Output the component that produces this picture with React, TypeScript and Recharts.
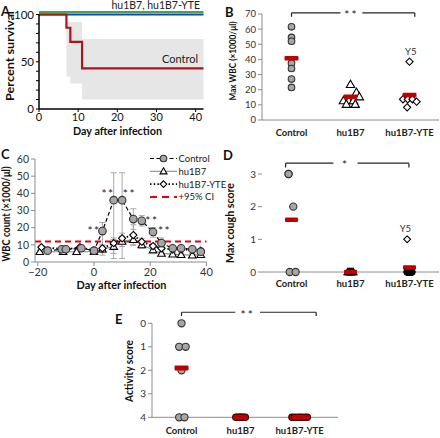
import React from 'react';
import {
  ComposedChart, ScatterChart, Line, Area, Scatter, XAxis, YAxis,
  ReferenceLine, ReferenceDot, ErrorBar,
} from 'recharts';

const FONT = 'Lato, "Liberation Sans", Arial, sans-serif';
const RED = '#c00000';
const AXIS_GRAY = '#8c8c8c';
const TICK = '#333';

// ================= Panel A: survival =================
const survDaysControl = [0, 7, 8, 11, 42];
const survControl = [100, 86, 71, 43, 43];
const survDaysTreated = [0, 42];
const survHu1B7 = [100, 100];
const survHu1B7Yte = [100, 100];
const ciDays = [7, 8, 11, 42];
const ciLow = [34, 27, 10, 10];
const ciHigh = [92, 92, 74, 74];
const dayTicksA = [0, 10, 20, 30, 40];
const survTicks = [0, 10, 20, 30, 40, 50, 60, 70, 80, 90, 100];

// ================= Panel B: max WBC =================
const groups = ['Control', 'hu1B7', 'hu1B7-YTE'];
const wbcControl = [61.5, 54.5, 52, 37.5, 34, 27, 21.5];
const wbcControlJitter = [0, 0, 0, 0, 0, 0, 0];
const wbcHu1B7 = [23.5, 18.3, 15.4, 12.8, 12.8, 12.8, 10.4, 10.4];
const wbcHu1B7Jitter = [0, 0.1, 0.15, -0.12, -0.03, 0.05, -0.07, 0.08];
const wbcYte = [38.5, 13.7, 13.7, 13.7, 12.1, 8.4];
const wbcYteJitter = [0, -0.11, -0.03, 0.05, 0.12, -0.04];
const wbcMeans = [40.7, 15.3, 16.5];
const wbcTicks = [0, 10, 20, 30, 40, 50, 60, 70];

// ================= Panel C: WBC time course =================
const wbcDaysControl = [-16.5, -11.5, -10, -4.5, 0, 3, 7, 10, 14, 17, 21, 24, 28, 31, 35, 38];
const wbcCtrlVals = [6.6, 7.4, 7.4, 8, 6.6, 18, 36, 36, 25, 24, 17.5, 11, 8, 8, 7.4, 6];
const wbcCtrlErr = [[1, 1], [1, 1], [1, 1], [1, 1], [1, 1], [14, 5], [34, 16], [34, 16], [6, 6], [3, 3], [3, 2.5], [3, 3], [1.5, 1.5], [1, 1], [1, 1], [1, 1]];
const wbcDaysHu1B7 = [-19.3, -11, -6.2, 0, 3, 7, 10, 14, 17, 21, 24, 28, 31, 35, 38];
const wbcHu1B7Vals = [6, 6, 6, 6, 7.5, 9, 12, 13, 10, 7, 5, 4.6, 4.3, 4, 4.3];
const wbcHu1B7Err = [[1, 1], [1, 1], [1, 1], [1, 1], [2, 2], [4, 4], [3, 3], [3, 3], [2, 2], [1.5, 1.5], [1, 1], [1, 1], [1, 1], [1, 1], [1, 1]];
const wbcDaysYte = [-18.7, -9.8, -5, 0, 3, 7, 10, 14, 17, 21, 24, 28, 31, 35, 38];
const wbcYteVals = [8.6, 7.4, 8.6, 6.6, 8, 11, 13.8, 15.7, 11.8, 9.3, 8, 7.4, 7.4, 7, 6.6];
const wbcYteErr = [[1, 1], [1, 1], [1, 1], [1, 1], [2, 2], [3, 3], [3, 3], [6, 6], [2, 2], [1.5, 1.5], [1, 1], [1, 1], [1, 1], [1, 1], [1, 1]];
const ci95 = 12;
const wbcDayTicks = [-20, 0, 20, 40];
const wbcCountTicks = [0, 10, 20, 30, 40, 50, 60];
const sigDays = [0, 5, 12.6, 20.6, 25.1];
const sigVals = [19.6, 41, 41, 25.4, 19.6];

// ================= Panel D: cough =================
const coughControl = [3, 3, 2, 0, 0];
const coughControlJitter = [-0.05, -0.05, 0.03, -0.03, 0.07];
const coughHu1B7 = [0, 0, 0, 0, 0, 0, 0];
const coughHu1B7Jitter = [-0.05, -0.03, -0.015, 0, 0.015, 0.03, 0.05];
const coughYte = [1, 0, 0, 0, 0, 0, 0];
const coughYteJitter = [-0.04, -0.04, -0.02, 0, 0.01, 0.02, 0.04];
const coughMeans = [1.6, 0, 0.14];
const coughTicks = [0, 1, 2, 3];

// ================= Panel E: activity =================
const actControl = [0, 1, 1, 2, 4, 4];
const actControlJitter = [0, -0.04, 0.07, 0, -0.04, 0.05];
const actHu1B7 = [4, 4, 4, 4, 4, 4, 4];
const actHu1B7Jitter = [-0.08, -0.05, -0.02, 0, 0.02, 0.05, 0.08];
const actYte = [4, 4, 4, 4, 4, 4, 4];
const actYteJitter = [-0.13, -0.09, -0.04, 0, 0.04, 0.09, 0.13];
const actMeans = [1.9, 4, 4];
const actTicks = [0, 1, 2, 3, 4];

// ================= helpers =================
const toPts = (vals: number[], jit: number[], cat: number) => vals.map((v, i) => ({ x: cat + jit[i], y: v }));
const meanPts = (m: number[]) => m.map((v, i) => ({ x: i + 1, y: v }));

const circleShape = (r: number, fill: string, stroke = '#333') => (p: any) =>
  p.cx == null ? <g /> : <circle cx={p.cx} cy={p.cy} r={r} fill={fill} stroke={stroke} strokeWidth={1.1} />;
const triShape = (s: number, fill: string) => (p: any) =>
  p.cx == null ? <g /> : (
    <path d={`M${p.cx},${p.cy - s} L${p.cx + s},${p.cy + s * 0.75} L${p.cx - s},${p.cy + s * 0.75} Z`}
      fill={fill} stroke="#000" strokeWidth={1.1} />
  );
const diaShape = (s: number, fill: string) => (p: any) =>
  p.cx == null ? <g /> : (
    <path d={`M${p.cx},${p.cy - s} L${p.cx + s},${p.cy} L${p.cx},${p.cy + s} L${p.cx - s},${p.cy} Z`}
      fill={fill} stroke="#000" strokeWidth={1.1} />
  );
// zero scores drawn as solid black blobs, non-zero as open diamonds
const coughYteShape = (p: any) =>
  p.cx == null ? <g /> : (p.payload && p.payload.y > 0)
    ? diaShape(3.4, '#fff')(p)
    : <circle cx={p.cx} cy={p.cy} r={3.4} fill="#000" stroke="#000" strokeWidth={1} />;
const meanShape = (w: number, h: number) => (p: any) =>
  p.cx == null ? <g /> : <rect x={p.cx - w / 2} y={p.cy - h / 2} width={w} height={h} rx={1} fill={RED} />;

function bracket(key: string, x1: number, x2: number, y: number, yEnd: number, g1: number, g2: number, text: string) {
  const st = { stroke: '#222', strokeWidth: 1.2 };
  return [
    <ReferenceLine key={key + 'a'} segment={[{ x: x1, y }, { x: g1, y }]} {...st} ifOverflow="visible" />,
    <ReferenceLine key={key + 'b'} segment={[{ x: g2, y }, { x: x2, y }]} {...st} ifOverflow="visible" />,
    <ReferenceLine key={key + 'c'} segment={[{ x: x1, y }, { x: x1, y: yEnd }]} {...st} ifOverflow="visible" />,
    <ReferenceLine key={key + 'd'} segment={[{ x: x2, y }, { x: x2, y: yEnd }]} {...st} ifOverflow="visible" />,
    <ReferenceDot key={key + 'e'} x={(g1 + g2) / 2} y={y} r={0} fill="none" stroke="none" ifOverflow="visible"
      label={{ value: text, position: 'center', fontSize: 12, fill: '#222', fontFamily: FONT, letterSpacing: 2, dy: 2 }} />,
  ];
}

const dotTick = { fontSize: 9.5, fill: TICK, fontFamily: FONT };
const catTick = { fontSize: 9.5, fill: '#222', fontFamily: FONT, fontWeight: 700 };

// ================= Panels =================
function PanelA() {
  const ctrl = survDaysControl.map((d, i) => ({ day: d, s: survControl[i] }));
  const hu = survDaysTreated.map((d, i) => ({ day: d, s: survHu1B7[i] }));
  const yte = survDaysTreated.map((d, i) => ({ day: d, s: survHu1B7Yte[i] }));
  const ci = ciDays.map((d, i) => ({ day: d, range: [ciLow[i], ciHigh[i]] }));
  const ax = { stroke: '#000', strokeWidth: 1.5 };
  return (
    <ComposedChart width={215} height={140} margin={{ top: 14.5, right: 11.5, bottom: 0, left: 0 }}>
      <XAxis type="number" dataKey="day" domain={[0, 42]} ticks={dayTicksA} interval={0} height={31}
        tickSize={3} tickMargin={1} axisLine={ax} tickLine={{ stroke: '#000' }}
        tick={{ fontSize: 11, fill: '#111', fontFamily: FONT }} allowDuplicatedCategory={false} />
      <YAxis type="number" domain={[0, 100]} ticks={survTicks} interval={0} width={39} tickSize={3}
        tickFormatter={(v: number) => (v % 50 === 0 ? String(v) : '')}
        axisLine={ax} tickLine={{ stroke: '#000' }} tick={{ fontSize: 11.5, fill: '#111', fontFamily: FONT }} />
      <Area data={ci} dataKey="range" type="stepAfter" fill="#e6e6e6" fillOpacity={1} stroke="none" isAnimationActive={false} />
      <Line data={hu} dataKey="s" type="stepAfter" stroke="#3daa47" strokeWidth={2.2} dot={false}
        isAnimationActive={false} style={{ transform: 'translateY(-2.5px)' }} />
      <Line data={yte} dataKey="s" type="stepAfter" stroke="#1a3fc4" strokeWidth={2.2} dot={false} isAnimationActive={false} />
      <Line data={ctrl} dataKey="s" type="stepAfter" stroke="#a8161c" strokeWidth={2.2} dot={false} isAnimationActive={false} />
      <ReferenceDot x={36} y={53} r={0} fill="none" stroke="none"
        label={{ value: 'Control', position: 'center', fontSize: 11, fill: '#222', fontFamily: FONT }} />
      <ReferenceDot x={29.8} y={109.4} r={0} fill="none" stroke="none" ifOverflow="visible"
        label={{ value: 'hu1B7, hu1B7-YTE', position: 'center', fontSize: 10.5, fill: '#222', fontFamily: FONT }} />
    </ComposedChart>
  );
}

function PanelB() {
  return (
    <ScatterChart width={220} height={140} margin={{ top: 14, right: 1, bottom: 0, left: 0 }}>
      <XAxis type="number" dataKey="x" domain={[0.5, 3.5]} ticks={[1, 2, 3]} interval={0} height={20}
        tickFormatter={(v: number) => groups[Math.round(v) - 1]} tickLine={false} tickSize={0} tickMargin={9}
        axisLine={{ stroke: AXIS_GRAY }} tick={catTick} />
      <YAxis type="number" dataKey="y" domain={[0, 70]} ticks={wbcTicks} interval={0} width={42} tickSize={4}
        axisLine={{ stroke: AXIS_GRAY }} tickLine={{ stroke: AXIS_GRAY }} tick={dotTick} />
      {bracket('b', 1.0, 3.09, 70.7, 68.2, 1.83, 2.2, '**')}
      <Scatter data={toPts(wbcControl, wbcControlJitter, 1)} shape={circleShape(3.3, '#a6a6a6')} isAnimationActive={false} />
      <Scatter data={toPts(wbcHu1B7, wbcHu1B7Jitter, 2)} shape={triShape(4.2, '#fff')} isAnimationActive={false} />
      <Scatter data={toPts(wbcYte, wbcYteJitter, 3)} shape={diaShape(3.6, '#fff')} isAnimationActive={false} />
      <Scatter data={meanPts(wbcMeans)} shape={meanShape(14, 4.5)} isAnimationActive={false} />
      <ReferenceDot x={3.02} y={44.9} r={0} fill="none" stroke="none"
        label={{ value: 'Y5', position: 'center', fontSize: 9.5, fill: '#333', fontFamily: FONT }} />
    </ScatterChart>
  );
}

function PanelC() {
  const ctrl = wbcDaysControl.map((d, i) => ({ day: d, v: wbcCtrlVals[i], e: wbcCtrlErr[i] }));
  const hu = wbcDaysHu1B7.map((d, i) => ({ day: d, v: wbcHu1B7Vals[i], e: wbcHu1B7Err[i] }));
  const yte = wbcDaysYte.map((d, i) => ({ day: d, v: wbcYteVals[i], e: wbcYteErr[i] }));
  const eb = { stroke: '#a8a8a8', strokeWidth: 1, width: 3 };
  return (
    <ComposedChart width={220} height={150} margin={{ top: 19, right: 13.6, bottom: 0, left: 0 }}>
      <XAxis type="number" dataKey="day" domain={[-21, 40]} ticks={wbcDayTicks} interval={0} height={28}
        tickSize={4} axisLine={{ stroke: AXIS_GRAY }} tickLine={{ stroke: AXIS_GRAY }}
        tickFormatter={(v: number) => (v < 0 ? '\u2212' + Math.abs(v) : String(v))}
        tick={{ fontSize: 11, fill: TICK, fontFamily: FONT }} allowDuplicatedCategory={false} />
      <YAxis type="number" domain={[0, 60]} ticks={wbcCountTicks} interval={0} width={35} tickSize={4}
        axisLine={{ stroke: AXIS_GRAY }} tickLine={{ stroke: AXIS_GRAY }}
        tick={{ fontSize: 10.5, fill: TICK, fontFamily: FONT }} />
      <ReferenceLine y={ci95} stroke="#e3000f" strokeWidth={2} strokeDasharray="6 4" />
      <Line data={hu} dataKey="v" name="hu1B7" stroke="#8a8a8a" strokeWidth={1.1}
        dot={triShape(3.8, '#fff')} isAnimationActive={false}>
        <ErrorBar dataKey="e" direction="y" {...eb} />
      </Line>
      <Line data={yte} dataKey="v" name="hu1B7-YTE" stroke="#000" strokeWidth={1.8} strokeDasharray="1.5 2.2"
        dot={diaShape(3.6, '#fff')} isAnimationActive={false}>
        <ErrorBar dataKey="e" direction="y" {...eb} />
      </Line>
      <Line data={ctrl} dataKey="v" name="Control" stroke="#000" strokeWidth={1.2} strokeDasharray="4 2.5"
        dot={circleShape(3.8, '#a6a6a6')} isAnimationActive={false}>
        <ErrorBar dataKey="e" direction="y" {...eb} />
      </Line>
      {sigDays.map((d, i) => (
        <ReferenceDot key={'s' + i} x={d} y={sigVals[i]} r={0} fill="none" stroke="none" ifOverflow="visible"
          label={{ value: '**', position: 'center', fontSize: 12, fill: '#222', fontFamily: FONT, letterSpacing: 1.5, dy: 2 }} />
      ))}
    </ComposedChart>
  );
}

function PanelD() {
  return (
    <ScatterChart width={220} height={150} margin={{ top: 34, right: 1, bottom: 0, left: 0 }}>
      <XAxis type="number" dataKey="x" domain={[0.5, 3.5]} ticks={[1, 2, 3]} interval={0} height={18}
        tickFormatter={(v: number) => groups[Math.round(v) - 1]} tickLine={false} tickSize={0} tickMargin={8}
        axisLine={{ stroke: AXIS_GRAY }} tick={catTick} />
      <YAxis type="number" dataKey="y" domain={[0, 3]} ticks={coughTicks} interval={0} width={42} tickSize={4}
        axisLine={false} tickLine={{ stroke: AXIS_GRAY }} tick={{ ...dotTick, fontSize: 10 }} />
      {bracket('d', 0.9, 2.99, 3.33, 3.2, 1.71, 2.12, '*')}
      <Scatter data={toPts(coughControl, coughControlJitter, 1)} shape={circleShape(3.6, '#a6a6a6')} isAnimationActive={false} />
      <Scatter data={toPts(coughHu1B7, coughHu1B7Jitter, 2)} shape={triShape(3.6, '#000')} isAnimationActive={false} />
      <Scatter data={toPts(coughYte, coughYteJitter, 3)} shape={coughYteShape} isAnimationActive={false} />
      <Scatter data={meanPts(coughMeans)} shape={meanShape(13, 4.5)} isAnimationActive={false} />
      <ReferenceDot x={2.93} y={1.32} r={0} fill="none" stroke="none"
        label={{ value: 'Y5', position: 'center', fontSize: 9.5, fill: '#333', fontFamily: FONT }} />
    </ScatterChart>
  );
}

function PanelE() {
  return (
    <ScatterChart width={240} height={158} margin={{ top: 43.3, right: 2, bottom: 0, left: 0 }}>
      <XAxis type="number" dataKey="x" domain={[0.5, 3.65]} ticks={[1, 2, 3]} interval={0} height={20.7}
        tickFormatter={(v: number) => groups[Math.round(v) - 1]} tickLine={false} tickSize={0} tickMargin={10}
        axisLine={{ stroke: AXIS_GRAY }} tick={catTick} />
      <YAxis type="number" dataKey="y" domain={[0, 4]} reversed ticks={actTicks} interval={0} width={52} tickSize={4}
        axisLine={{ stroke: AXIS_GRAY }} tickLine={{ stroke: AXIS_GRAY }} tick={{ ...dotTick, fontSize: 10 }} />
      {bracket('e', 1.0, 3.28, -0.47, -0.31, 1.91, 2.33, '**')}
      <Scatter data={toPts(actControl, actControlJitter, 1)} shape={circleShape(3.6, '#a6a6a6')} isAnimationActive={false} />
      <Scatter data={toPts(actHu1B7, actHu1B7Jitter, 2)} shape={circleShape(3.2, RED, '#3a0000')} isAnimationActive={false} />
      <Scatter data={toPts(actYte, actYteJitter, 3)} shape={circleShape(3.2, RED, '#3a0000')} isAnimationActive={false} />
      <Scatter data={meanPts(actMeans)} shape={meanShape(14, 5)} isAnimationActive={false} />
    </ScatterChart>
  );
}

const legendItems = [
  { name: 'Control', color: '#000', dash: '4 2.5', w: 1.2, marker: 'circle' },
  { name: 'hu1B7', color: '#8a8a8a', dash: undefined, w: 1.1, marker: 'tri' },
  { name: 'hu1B7-YTE', color: '#000', dash: '1.5 2.2', w: 1.8, marker: 'dia' },
  { name: '+95% CI', color: '#e3000f', dash: '7 5', w: 2, marker: 'none' },
];

function Overlay() {
  const bold = { fontFamily: FONT, fontWeight: 700, fill: '#111' } as const;
  const rot = (x: number, y: number, size: number, len: number, text: string) => (
    <text x={x} y={y} transform={`rotate(-90 ${x} ${y})`} textAnchor="middle" dominantBaseline="central"
      fontSize={size} textLength={len} lengthAdjust="spacingAndGlyphs" {...bold}>{text}</text>
  );
  return (
    <svg width={440} height={438} style={{ position: 'absolute', left: 0, top: 0, pointerEvents: 'none' }}>
      <text x={1} y={15.5} fontSize={13} {...bold}>A</text>
      <text x={225} y={17} fontSize={13} {...bold}>B</text>
      <text x={1} y={158.5} fontSize={13} {...bold}>C</text>
      <text x={223} y={159.5} fontSize={13} {...bold}>D</text>
      <text x={115} y={323.5} fontSize={13} {...bold}>E</text>
      {rot(9, 56, 11.5, 90, 'Percent survival')}
      <text x={117.5} y={135} textAnchor="middle" fontSize={12} textLength={89} lengthAdjust="spacingAndGlyphs" {...bold}>Day after infection</text>
      {rot(231.5, 61, 10, 79, 'Max WBC (\u00d71000/\u03bcl)')}
      {rot(5.5, 214, 10.5, 95, 'WBC count (\u00d71000/\u03bcl)')}
      <text x={121.5} y={288.5} textAnchor="middle" fontSize={12} textLength={90} lengthAdjust="spacingAndGlyphs" {...bold}>Day after infection</text>
      {rot(230, 223, 10.5, 80, 'Max cough score')}
      {rot(128.5, 371, 10.5, 62, 'Activity score')}
      {legendItems.map((it, i) => {
        const y = 158.5 + i * 12.8;
        const cx = 163.5;
        return (
          <g key={it.name}>
            <line x1={150} x2={177} y1={y} y2={y} stroke={it.color} strokeWidth={it.w} strokeDasharray={it.dash} />
            {it.marker === 'circle' && <circle cx={cx} cy={y} r={3.3} fill="#a6a6a6" stroke="#333" strokeWidth={1.1} />}
            {it.marker === 'tri' && <path d={`M${cx},${y - 3.5} L${cx + 3.5},${y + 2.6} L${cx - 3.5},${y + 2.6} Z`} fill="#fff" stroke="#000" strokeWidth={1.1} />}
            {it.marker === 'dia' && <path d={`M${cx},${y - 3.3} L${cx + 3.3},${y} L${cx},${y + 3.3} L${cx - 3.3},${y} Z`} fill="#fff" stroke="#000" strokeWidth={1.1} />}
            <text x={178.5} y={y} dominantBaseline="central" fontSize={9.5} fontFamily={FONT} fill="#222">{it.name}</text>
          </g>
        );
      })}
    </svg>
  );
}

export default function App() {
  return (
    <div style={{ position: 'absolute', left: 0, top: 0, width: 440, height: 438, background: '#fff', overflow: 'hidden', fontFamily: FONT }}>
      <div style={{ position: 'absolute', left: 0, top: 0 }}><PanelA /></div>
      <div style={{ position: 'absolute', left: 220, top: 0 }}><PanelB /></div>
      <div style={{ position: 'absolute', left: 0, top: 140 }}><PanelC /></div>
      <div style={{ position: 'absolute', left: 220, top: 140 }}><PanelD /></div>
      <div style={{ position: 'absolute', left: 100, top: 280 }}><PanelE /></div>
      <Overlay />
    </div>
  );
}
